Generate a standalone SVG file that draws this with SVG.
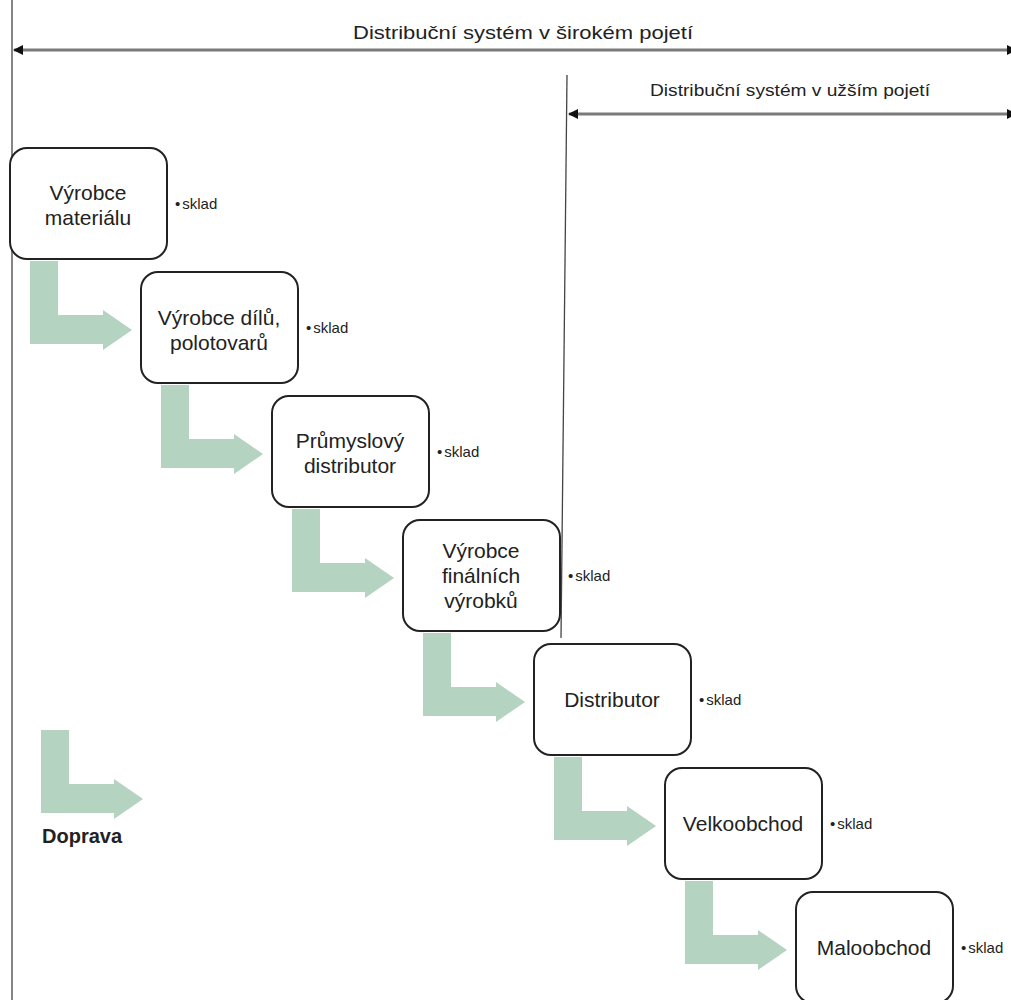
<svg xmlns="http://www.w3.org/2000/svg" width="1011" height="1000" viewBox="0 0 1011 1000">
<style>
text{font-family:"Liberation Sans",Arial,sans-serif;fill:#222}
.box{fill:#fff;stroke:#222;stroke-width:2}
.lbl{font-size:21px;text-anchor:middle}
.sk{font-size:15px}
.hdr{font-size:19px;text-anchor:middle}
.dim{stroke:#7a7a7a;stroke-width:3;fill:none;marker-start:url(#ah);marker-end:url(#ah)}
.vl{stroke:#444;stroke-width:1.3;fill:none}
.flow{fill:#b4d3c0}
</style>
<defs>
<marker id="ah" viewBox="0 0 10 10" refX="9" refY="5" markerWidth="10" markerHeight="10" markerUnits="userSpaceOnUse" orient="auto-start-reverse">
<path d="M0,0 L10,5 L0,10 z" fill="#111"/>
</marker>
<path id="larrow" d="M20,0 H48 V54 H93 V49 L122,69 L93,89 V83 H20 Z"/>
</defs>
<rect width="1011" height="1000" fill="#fff"/>
<g id="guides">
<line class="vl" x1="12" y1="0" x2="12" y2="1000"/>
<line class="vl" x1="567" y1="75" x2="561" y2="638"/>
</g>
<g id="connectors">
<line class="dim" x1="14" y1="50" x2="1016" y2="50"/>
<line class="dim" x1="569" y1="114" x2="1016" y2="114"/>
<use href="#larrow" class="flow" transform="translate(10,261)"/>
<use href="#larrow" class="flow" transform="translate(141,385)"/>
<use href="#larrow" class="flow" transform="translate(272,509)"/>
<use href="#larrow" class="flow" transform="translate(403,633)"/>
<use href="#larrow" class="flow" transform="translate(534,757)"/>
<use href="#larrow" class="flow" transform="translate(665,881)"/>
</g>
<g id="labels">
<text class="hdr" x="523" y="39" textLength="340" lengthAdjust="spacingAndGlyphs">Distribuční systém v širokém pojetí</text>
<text class="hdr" x="790" y="96" style="font-size:16px" textLength="280" lengthAdjust="spacingAndGlyphs">Distribuční systém v užším pojetí</text>
</g>
<g id="node1">
<rect class="box" x="10" y="148" width="157" height="111" rx="17"/>
<text class="lbl" x="88" y="200">Výrobce</text>
<text class="lbl" x="88" y="225">materiálu</text>
<text class="sk" x="175" y="209">•<tspan dx="2">sklad</tspan></text>
</g>
<g id="node2">
<rect class="box" x="141" y="272" width="157" height="111" rx="17"/>
<text class="lbl" x="219" y="325">Výrobce dílů,</text>
<text class="lbl" x="219" y="350">polotovarů</text>
<text class="sk" x="306" y="333">•<tspan dx="2">sklad</tspan></text>
</g>
<g id="node3">
<rect class="box" x="272" y="396" width="157" height="111" rx="17"/>
<text class="lbl" x="350" y="448">Průmyslový</text>
<text class="lbl" x="350" y="473">distributor</text>
<text class="sk" x="437" y="457">•<tspan dx="2">sklad</tspan></text>
</g>
<g id="node4">
<rect class="box" x="403" y="520" width="157" height="111" rx="17"/>
<text class="lbl" x="481" y="558">Výrobce</text>
<text class="lbl" x="481" y="583">finálních</text>
<text class="lbl" x="481" y="608">výrobků</text>
<text class="sk" x="568" y="581">•<tspan dx="2">sklad</tspan></text>
</g>
<g id="node5">
<rect class="box" x="534" y="644" width="157" height="111" rx="17"/>
<text class="lbl" x="612" y="707">Distributor</text>
<text class="sk" x="699" y="705">•<tspan dx="2">sklad</tspan></text>
</g>
<g id="node6">
<rect class="box" x="665" y="768" width="157" height="111" rx="17"/>
<text class="lbl" x="743" y="831">Velkoobchod</text>
<text class="sk" x="830" y="829">•<tspan dx="2">sklad</tspan></text>
</g>
<g id="node7">
<rect class="box" x="796" y="892" width="157" height="111" rx="17"/>
<text class="lbl" x="874" y="955">Maloobchod</text>
<text class="sk" x="961" y="953">•<tspan dx="2">sklad</tspan></text>
</g>
<g id="legend">
<use href="#larrow" class="flow" transform="translate(21,730)"/>
<text x="42" y="843" font-weight="bold" style="font-size:20px">Doprava</text>
</g>
</svg>
